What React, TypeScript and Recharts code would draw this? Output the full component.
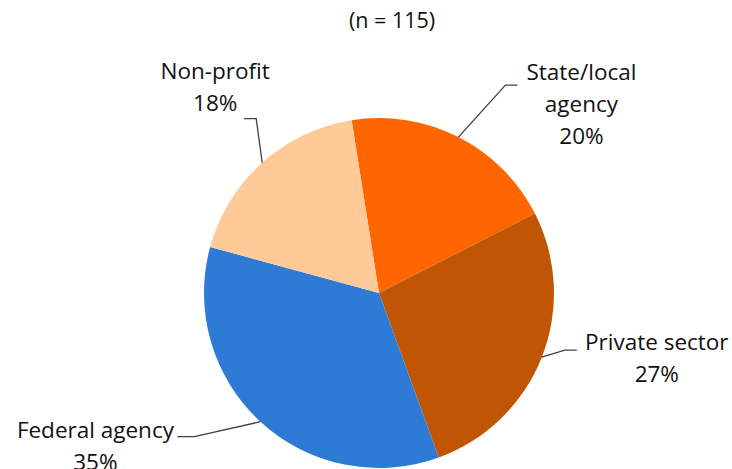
import { Pie, PieChart, Cell } from "recharts";

const categories = ["State/local agency", "Private sector", "Federal agency", "Non-profit"];
const counts = [23, 31, 40, 21];
const sampleSize = 115;

const colors = ["#FF6600", "#C05504", "#2E7BD6", "#FFCA98"];

// leader line layout per slice: elbow offset from slice edge, tail, text offset from tail end
const leaders = [
  { elbow: [47, -52], tail: 12, text: [64, -5], lines: ["State/local", "agency"] },
  { elbow: [23, -7], tail: 12, text: [80, 0], lines: ["Private sector"] },
  { elbow: [-66, 15], tail: -17, text: [-82, 1], lines: ["Federal agency"] },
  { elbow: [-6, -44], tail: -12, text: [-29, -40], lines: ["Non-profit"] },
];

const data = categories.map((name, i) => ({ name, value: counts[i] }));

const RAD = Math.PI / 180;
const FONT = "'Open Sans', Lato, sans-serif";

function renderLabel(props: any) {
  const { cx, cy, midAngle, outerRadius, index, percent } = props;
  const lay = leaders[index];
  const sx = cx + outerRadius * Math.cos(-midAngle * RAD);
  const sy = cy + outerRadius * Math.sin(-midAngle * RAD);
  const ex = sx + lay.elbow[0];
  const ey = sy + lay.elbow[1];
  const tx = ex + lay.tail;
  const textX = tx + lay.text[0];
  const textY = ey + lay.text[1];
  const rows = [...lay.lines, `${Math.round(percent * 100)}%`];
  return (
    <g key={`lbl-${index}`}>
      <polyline
        points={`${sx},${sy} ${ex},${ey} ${tx},${ey}`}
        fill="none"
        stroke="#404040"
        strokeWidth={1.3}
      />
      <text x={textX} y={textY} textAnchor="middle" fontFamily={FONT} fontSize={22.5} fill="#111">
        {rows.map((r, j) => (
          <tspan key={j} x={textX} y={textY + j * 32}>
            {r}
          </tspan>
        ))}
      </text>
    </g>
  );
}

export default function App() {
  return (
    <div style={{ width: 732, height: 469, background: "#fff" }}>
      <style>{`body{margin:0}`}</style>
      <PieChart width={732} height={469} margin={{ top: 0, right: 0, bottom: 0, left: 0 }}>
        <text x={392} y={28} textAnchor="middle" fontFamily={FONT} fontSize={21.5} fill="#111">
          {`(n = ${sampleSize})`}
        </text>
        <Pie
          data={data}
          dataKey="value"
          nameKey="name"
          cx={379}
          cy={293}
          outerRadius={175}
          startAngle={99}
          endAngle={-261}
          stroke="none"
          label={renderLabel}
          labelLine={false}
          isAnimationActive={false}
        >
          {data.map((d, i) => (
            <Cell key={d.name} fill={colors[i]} />
          ))}
        </Pie>
      </PieChart>
    </div>
  );
}
